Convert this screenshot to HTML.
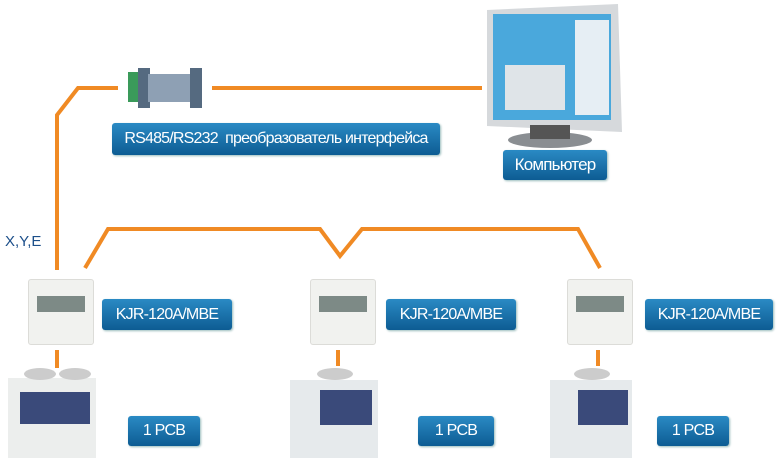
<!DOCTYPE html><html><head><meta charset="utf-8"><style>
body{margin:0;width:779px;height:460px;background:#fff;position:relative;overflow:hidden;font-family:"Liberation Sans",sans-serif}
.l{position:absolute;background:linear-gradient(#2a8ac4,#0d5c93);color:#fff;border-radius:3px;display:flex;align-items:center;justify-content:center;font-size:16px;letter-spacing:-0.8px;box-shadow:1px 1px 2px #9bb}
.c{position:absolute;width:64px;height:64px;background:#f1f2ef;border:1px solid #dcdcd8;border-radius:3px}
.c i{position:absolute;left:8px;top:16px;width:48px;height:16px;background:#7d8a86}
</style></head><body>
<svg width="779" height="460" style="position:absolute;left:0;top:0">
<g fill="none" stroke="#f08a24" stroke-width="4">
<polyline points="57,270 57,115 78,88 118,88"/>
<line x1="212" y1="88" x2="482" y2="88"/>
<polyline points="85,268 108,229 320,229 340,256 362,229 578,229 600,268"/>
<line x1="57" y1="350" x2="57" y2="368"/><line x1="338" y1="350" x2="338" y2="366"/><line x1="598" y1="350" x2="598" y2="366"/>
</g>
<rect x="128" y="72" width="10" height="30" fill="#3a9a5a"/>
<rect x="138" y="68" width="12" height="40" fill="#556a80"/>
<rect x="148" y="74" width="45" height="28" fill="#8ea0b4"/>
<rect x="190" y="68" width="12" height="40" fill="#556a80"/>
<path d="M487,10 L618,4 L622,132 L487,126 Z" fill="#d6d9dc"/>
<rect x="493" y="14" width="118" height="106" fill="#4aa8dc"/>
<rect x="575" y="20" width="34" height="95" fill="#e6eef4"/>
<rect x="505" y="65" width="60" height="45" fill="#dfe4e8"/>
<ellipse cx="550" cy="140" rx="42" ry="8" fill="#8a8e92"/>
<rect x="530" y="125" width="40" height="14" fill="#555"/>
<rect x="8" y="378" width="88" height="80" fill="#eceeed"/><rect x="20" y="392" width="70" height="32" fill="#3a4a7a"/>
<ellipse cx="40" cy="374" rx="16" ry="6" fill="#ccc"/><ellipse cx="75" cy="374" rx="16" ry="6" fill="#ccc"/>
<rect x="290" y="380" width="88" height="78" fill="#e6eaec"/><rect x="320" y="390" width="52" height="35" fill="#3a4a7a"/>
<ellipse cx="335" cy="374" rx="18" ry="6" fill="#ccc"/>
<rect x="550" y="380" width="82" height="78" fill="#e6eaec"/><rect x="578" y="390" width="50" height="35" fill="#3a4a7a"/>
<ellipse cx="592" cy="374" rx="18" ry="6" fill="#ccc"/>
</svg>
<div style="position:absolute;left:5px;top:233px;color:#1c4f8a;font-size:15px">X,Y,E</div>
<div class="l" style="left:112px;top:123px;width:328px;height:32px">RS485/RS232&nbsp; преобразователь интерфейса</div>
<div class="l" style="left:503px;top:150px;width:104px;height:30px;font-size:17px">Компьютер</div>
<div class="c" style="left:28px;top:279px"><i></i></div>
<div class="c" style="left:310px;top:279px"><i></i></div>
<div class="c" style="left:567px;top:279px"><i></i></div>
<div class="l" style="left:102px;top:299px;width:130px;height:31px">KJR-120A/MBE</div>
<div class="l" style="left:386px;top:299px;width:130px;height:31px">KJR-120A/MBE</div>
<div class="l" style="left:645px;top:299px;width:128px;height:31px">KJR-120A/MBE</div>
<div class="l" style="left:128px;top:416px;width:72px;height:30px">1 PCB</div>
<div class="l" style="left:418px;top:416px;width:76px;height:30px">1 PCB</div>
<div class="l" style="left:657px;top:416px;width:72px;height:30px">1 PCB</div>
</body></html>
